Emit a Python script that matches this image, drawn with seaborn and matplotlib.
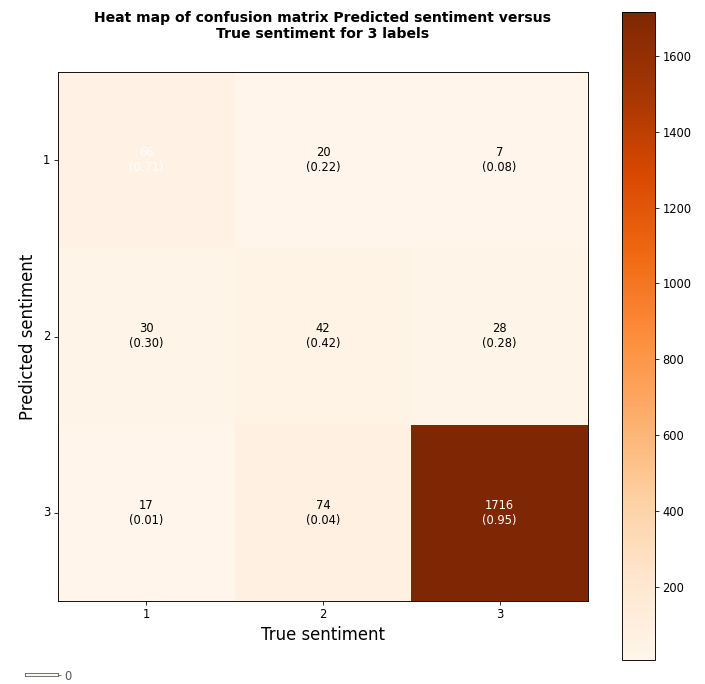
import numpy as np
import pandas as pd
import seaborn as sns
import matplotlib
matplotlib.use("Agg")
import matplotlib.pyplot as plt

labels = ["1", "2", "3"]
row_1 = [66, 20, 7]
row_2 = [30, 42, 28]
row_3 = [17, 74, 1716]
ratio_1 = [0.71, 0.22, 0.08]
ratio_2 = [0.30, 0.42, 0.28]
ratio_3 = [0.01, 0.04, 0.95]

counts = pd.DataFrame([row_1, row_2, row_3], index=labels, columns=labels)
ratios = np.array([ratio_1, ratio_2, ratio_3])
annot = np.array([[f"{c}\n({r:.2f})" for c, r in zip(cr, rr)]
                  for cr, rr in zip(counts.values, ratios)])

W, H = 705, 684
fig = plt.figure(figsize=(W / 72, H / 72), dpi=72)
ax = fig.add_axes([58 / W, 1 - 601 / H, 530 / W, 529 / H])
cax = fig.add_axes([622 / W, 1 - 660 / H, 33 / W, 648 / H])

sns.heatmap(counts, ax=ax, cbar_ax=cax, cmap="Oranges", annot=annot, fmt="",
            annot_kws={"fontsize": 11.5})

# light text on cells holding most of their row
for t, r in zip(ax.texts, ratios.ravel()):
    t.set_color("white" if r > 0.5 else "black")

for s in ax.spines.values():
    s.set_visible(True)
    s.set_linewidth(0.9)
cbar = ax.collections[0].colorbar
cbar.outline.set_linewidth(0.9)
cax.tick_params(labelsize=11.5, length=4)

ax.tick_params(labelsize=11.5, rotation=0, length=4)
ax.set_xlabel("True sentiment", fontsize=16.5, labelpad=4)
ax.set_ylabel("Predicted sentiment", fontsize=16.5, labelpad=6)
ax.set_title("Heat map of confusion matrix Predicted sentiment versus\nTrue sentiment for 3 labels",
             fontsize=14, fontweight="bold", pad=34)

# small stray legend-bar in the corner
sax = fig.add_axes([25 / W, 1 - 676 / H, 33 / W, 3 / H])
sax.set_facecolor(plt.get_cmap("Oranges")(0.0))
for s in sax.spines.values():
    s.set_color("#555555")
sax.set_xticks([])
sax.set_ylim(-0.5, 0.5)
sax.set_yticks([0])
sax.set_yticklabels(["0"])
sax.yaxis.tick_right()
sax.tick_params(labelsize=11.5, length=3, colors="#555555")

fig.savefig("out.png", dpi=72)
